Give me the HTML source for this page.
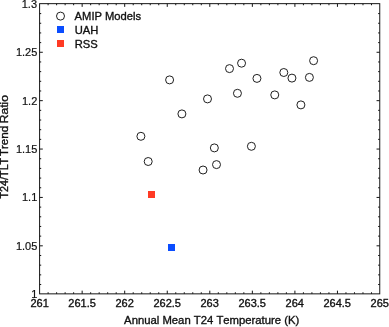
<!DOCTYPE html><html><head><meta charset="utf-8"><style>html,body{margin:0;padding:0;background:#fff}svg{display:block;will-change:transform}text{font-family:"Liberation Sans",sans-serif;font-size:11.2px;font-kerning:none;fill:#111;stroke:#111;stroke-width:0.35px}text.t{font-size:11px;stroke-width:0.2px}</style></head><body>
<svg width="389" height="327" viewBox="0 0 389 327">
<rect width="389" height="327" fill="#fff"/><g opacity="0.999">
<rect x="39.6" y="3.65" width="340.15" height="290.20" fill="none" stroke="#141414" stroke-width="1"/>
<path d="M48.11 293.85v-1.6M48.11 3.65v1.6M56.62 293.85v-1.6M56.62 3.65v1.6M65.13 293.85v-1.6M65.13 3.65v1.6M73.64 293.85v-1.6M73.64 3.65v1.6M82.15 293.85v-3.2M82.15 3.65v3.2M90.66 293.85v-1.6M90.66 3.65v1.6M99.17 293.85v-1.6M99.17 3.65v1.6M107.68 293.85v-1.6M107.68 3.65v1.6M116.19 293.85v-1.6M116.19 3.65v1.6M124.70 293.85v-3.2M124.70 3.65v3.2M133.21 293.85v-1.6M133.21 3.65v1.6M141.72 293.85v-1.6M141.72 3.65v1.6M150.23 293.85v-1.6M150.23 3.65v1.6M158.74 293.85v-1.6M158.74 3.65v1.6M167.25 293.85v-3.2M167.25 3.65v3.2M175.76 293.85v-1.6M175.76 3.65v1.6M184.27 293.85v-1.6M184.27 3.65v1.6M192.78 293.85v-1.6M192.78 3.65v1.6M201.29 293.85v-1.6M201.29 3.65v1.6M209.80 293.85v-3.2M209.80 3.65v3.2M218.31 293.85v-1.6M218.31 3.65v1.6M226.82 293.85v-1.6M226.82 3.65v1.6M235.33 293.85v-1.6M235.33 3.65v1.6M243.84 293.85v-1.6M243.84 3.65v1.6M252.35 293.85v-3.2M252.35 3.65v3.2M260.86 293.85v-1.6M260.86 3.65v1.6M269.37 293.85v-1.6M269.37 3.65v1.6M277.88 293.85v-1.6M277.88 3.65v1.6M286.39 293.85v-1.6M286.39 3.65v1.6M294.90 293.85v-3.2M294.90 3.65v3.2M303.41 293.85v-1.6M303.41 3.65v1.6M311.92 293.85v-1.6M311.92 3.65v1.6M320.43 293.85v-1.6M320.43 3.65v1.6M328.94 293.85v-1.6M328.94 3.65v1.6M337.45 293.85v-3.2M337.45 3.65v3.2M345.96 293.85v-1.6M345.96 3.65v1.6M354.47 293.85v-1.6M354.47 3.65v1.6M362.98 293.85v-1.6M362.98 3.65v1.6M371.49 293.85v-1.6M371.49 3.65v1.6M39.6 284.52h1.6M379.75 284.52h-1.6M39.6 274.85h1.6M379.75 274.85h-1.6M39.6 265.17h1.6M379.75 265.17h-1.6M39.6 255.49h1.6M379.75 255.49h-1.6M39.6 245.82h3.2M379.75 245.82h-3.2M39.6 236.14h1.6M379.75 236.14h-1.6M39.6 226.46h1.6M379.75 226.46h-1.6M39.6 216.79h1.6M379.75 216.79h-1.6M39.6 207.11h1.6M379.75 207.11h-1.6M39.6 197.43h3.2M379.75 197.43h-3.2M39.6 187.76h1.6M379.75 187.76h-1.6M39.6 178.08h1.6M379.75 178.08h-1.6M39.6 168.40h1.6M379.75 168.40h-1.6M39.6 158.73h1.6M379.75 158.73h-1.6M39.6 149.05h3.2M379.75 149.05h-3.2M39.6 139.37h1.6M379.75 139.37h-1.6M39.6 129.70h1.6M379.75 129.70h-1.6M39.6 120.02h1.6M379.75 120.02h-1.6M39.6 110.34h1.6M379.75 110.34h-1.6M39.6 100.67h3.2M379.75 100.67h-3.2M39.6 90.99h1.6M379.75 90.99h-1.6M39.6 81.31h1.6M379.75 81.31h-1.6M39.6 71.64h1.6M379.75 71.64h-1.6M39.6 61.96h1.6M379.75 61.96h-1.6M39.6 52.28h3.2M379.75 52.28h-3.2M39.6 42.61h1.6M379.75 42.61h-1.6M39.6 32.93h1.6M379.75 32.93h-1.6M39.6 23.25h1.6M379.75 23.25h-1.6M39.6 13.58h1.6M379.75 13.58h-1.6" stroke="#141414" stroke-width="1" fill="none"/>
<text class="t" style="stroke-width:0.35px" x="39.60" y="306.6" text-anchor="middle">261</text>
<text class="t" style="stroke-width:0.35px" x="82.12" y="306.6" text-anchor="middle">261.5</text>
<text class="t" style="stroke-width:0.35px" x="124.64" y="306.6" text-anchor="middle">262</text>
<text class="t" style="stroke-width:0.35px" x="167.16" y="306.6" text-anchor="middle">262.5</text>
<text class="t" style="stroke-width:0.35px" x="209.67" y="306.6" text-anchor="middle">263</text>
<text class="t" style="stroke-width:0.35px" x="252.19" y="306.6" text-anchor="middle">263.5</text>
<text class="t" style="stroke-width:0.35px" x="294.71" y="306.6" text-anchor="middle">264</text>
<text class="t" style="stroke-width:0.35px" x="337.23" y="306.6" text-anchor="middle">264.5</text>
<text class="t" style="stroke-width:0.35px" x="379.75" y="306.6" text-anchor="middle">265</text>
<text class="t" x="37.3" y="298.15" text-anchor="end">1</text>
<text class="t" x="37.3" y="249.81" text-anchor="end">1.05</text>
<text class="t" x="37.3" y="201.47" text-anchor="end">1.1</text>
<text class="t" x="37.3" y="153.12" text-anchor="end">1.15</text>
<text class="t" x="37.3" y="104.78" text-anchor="end">1.2</text>
<text class="t" x="37.3" y="56.44" text-anchor="end">1.25</text>
<text class="t" x="37.0" y="7.75" text-anchor="end">1.3</text>
<text x="124.1" y="324" style="font-size:11.3px">Annual Mean T24 Temperature (K)</text>
<g transform="translate(8.4 0) rotate(-90)" style="font-kerning:normal;font-size:11.3px">
<text x="-198.5" y="0" textLength="40.7" lengthAdjust="spacingAndGlyphs">T24/TLT</text>
<text x="-156.1" y="0" textLength="30.3" lengthAdjust="spacingAndGlyphs">Trend</text>
<text x="-123.3" y="0" textLength="28.2" lengthAdjust="spacingAndGlyphs">Ratio</text>
</g>
<circle cx="60.5" cy="16.1" r="4" fill="none" stroke="#141414" stroke-width="0.95"/>
<rect x="57" y="26" width="7" height="7" fill="#0a4dff"/>
<rect x="57" y="40" width="7" height="7" fill="#ff3a24"/>
<text x="74.6" y="20.3">AMIP Models</text>
<text x="74.7" y="34.2">UAH</text>
<text x="74.7" y="47.6">RSS</text>
<circle cx="169.60" cy="79.90" r="4" fill="none" stroke="#141414" stroke-width="0.95"/>
<circle cx="207.50" cy="98.90" r="4" fill="none" stroke="#141414" stroke-width="0.95"/>
<circle cx="181.90" cy="113.90" r="4" fill="none" stroke="#141414" stroke-width="0.95"/>
<circle cx="140.90" cy="136.30" r="4" fill="none" stroke="#141414" stroke-width="0.95"/>
<circle cx="148.20" cy="161.50" r="4" fill="none" stroke="#141414" stroke-width="0.95"/>
<circle cx="214.35" cy="147.90" r="4" fill="none" stroke="#141414" stroke-width="0.95"/>
<circle cx="216.50" cy="164.60" r="4" fill="none" stroke="#141414" stroke-width="0.95"/>
<circle cx="203.05" cy="170.00" r="4" fill="none" stroke="#141414" stroke-width="0.95"/>
<circle cx="229.50" cy="68.60" r="4" fill="none" stroke="#141414" stroke-width="0.95"/>
<circle cx="241.55" cy="63.20" r="4" fill="none" stroke="#141414" stroke-width="0.95"/>
<circle cx="237.45" cy="93.30" r="4" fill="none" stroke="#141414" stroke-width="0.95"/>
<circle cx="256.95" cy="78.40" r="4" fill="none" stroke="#141414" stroke-width="0.95"/>
<circle cx="274.75" cy="94.90" r="4" fill="none" stroke="#141414" stroke-width="0.95"/>
<circle cx="283.80" cy="72.50" r="4" fill="none" stroke="#141414" stroke-width="0.95"/>
<circle cx="291.95" cy="78.10" r="4" fill="none" stroke="#141414" stroke-width="0.95"/>
<circle cx="300.90" cy="104.90" r="4" fill="none" stroke="#141414" stroke-width="0.95"/>
<circle cx="309.40" cy="77.40" r="4" fill="none" stroke="#141414" stroke-width="0.95"/>
<circle cx="313.60" cy="60.70" r="4" fill="none" stroke="#141414" stroke-width="0.95"/>
<circle cx="251.40" cy="146.30" r="4" fill="none" stroke="#141414" stroke-width="0.95"/>
<rect x="148" y="191" width="7" height="7" fill="#ff3a24"/>
<rect x="168" y="244" width="7" height="7" fill="#0a4dff"/>
</g></svg></body></html>
